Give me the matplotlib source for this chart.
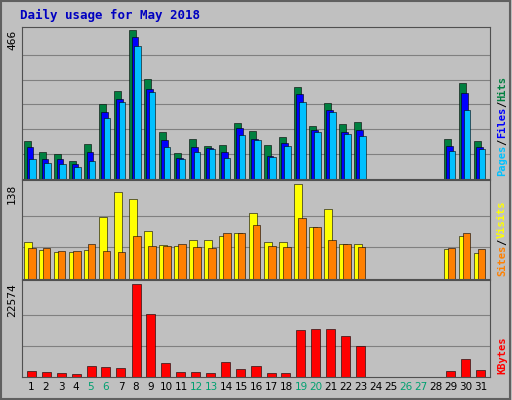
import matplotlib
matplotlib.use("Agg")
import matplotlib.pyplot as plt
import numpy as np

days = list(range(1, 32))
weekend = [5, 6, 12, 13, 19, 20, 26, 27]
data_days = list(range(1, 24)) + [29, 30, 31]
hits  = [118,83,77,57,108,233,274,466,313,147,80,124,102,105,175,150,105,131,287,166,239,172,179,124,300,118]
files = [99,64,61,48,83,210,249,443,281,121,67,99,96,83,160,124,73,112,265,153,217,147,153,102,268,99]
pages = [64,51,48,38,57,191,242,415,271,99,61,83,93,67,137,121,70,102,242,147,210,140,134,89,217,93]
visits = [53,42,39,39,42,90,126,116,69,50,48,56,56,63,66,96,53,54,138,75,102,51,51,44,63,38]
sites  = [45,45,41,41,51,41,39,62,48,48,51,47,45,66,66,78,48,47,89,75,56,51,47,45,66,44]
kbytes = [1490,1240,990,740,2730,2480,2230,22574,15130,3470,1240,1240,990,3720,1980,2730,990,990,11410,11660,11660,9920,7440,1490,4460,1740]

BG = "#C0C0C0"
fig = plt.figure(figsize=(5.12, 4.0), dpi=100, facecolor=BG)
fig.patches.append(plt.Rectangle((0.002, 0.003), 0.995, 0.994, transform=fig.transFigure,
                                 fill=False, edgecolor="#606060", lw=1.5))
fig.text(20/512, 1-15/400, "Daily usage for May 2018", color="#0000C0", fontsize=9,
         fontweight="bold", family="DejaVu Sans Mono", va="center")

L, R = 22/512, 490/512
def mkax(top, bot):
    ax = fig.add_axes([L, 1-bot/400, R-L, (bot-top)/400])
    ax.set_facecolor(BG)
    ax.set_xlim(0.4, 31.6)
    for s in ax.spines.values():
        s.set_color("#505050")
    ax.tick_params(length=0)
    ax.set_xticks([])
    return ax

x = np.array(data_days, dtype=float)
kw = dict(edgecolor="black", linewidth=0.4, align="edge")

ax1 = mkax(27, 179)
ax1.set_ylim(0, 466*1.02)
for yv in np.linspace(0, 466, 7)[1:-1]:
    ax1.axhline(yv, color="#808080", lw=0.8, zorder=0)
ax1.bar(x-0.45, hits, 0.45, color="#008040", **kw)
ax1.bar(x-0.3, files, 0.45, color="#0000FF", **kw)
ax1.bar(x-0.15, pages, 0.45, color="#00C0FF", **kw)
ax1.set_yticks([466]); ax1.set_yticklabels(["466"], rotation=90, va="top", fontsize=8, family="DejaVu Sans Mono")

ax2 = mkax(180, 279)
ax2.set_ylim(0, 138*1.04)
for yv in np.linspace(0, 138, 4)[1:-1]:
    ax2.axhline(yv, color="#808080", lw=0.8, zorder=0)
ax2.bar(x-0.45, visits, 0.5, color="#FFFF00", **kw)
ax2.bar(x-0.2, sites, 0.5, color="#FF8000", **kw)
ax2.set_yticks([138]); ax2.set_yticklabels(["138"], rotation=90, va="top", fontsize=8, family="DejaVu Sans Mono")

ax3 = mkax(280, 377)
ax3.set_ylim(0, 22574*1.04)
for yv in np.linspace(0, 22574, 4)[1:-1]:
    ax3.axhline(yv, color="#808080", lw=0.8, zorder=0)
ax3.bar(x-0.3, kbytes, 0.6, color="#FF0000", **kw)
ax3.set_yticks([22574]); ax3.set_yticklabels(["22574"], rotation=90, va="top", fontsize=8, family="DejaVu Sans Mono")
ax3.set_xticks(days)
ax3.set_xticklabels([str(d) for d in days], fontsize=7.5)
for lab, d in zip(ax3.get_xticklabels(), days):
    lab.set_color("#00A070" if d in weekend else "black")

FS = 7.5
CH = 0.6 * FS * 100 / 72  # char advance in px

def rlabel(ax, parts):
    hpx = ax.get_position().height * 400
    xs = 1.0 + 12/468
    pos = 3.0
    for txt, col in parts:
        ax.text(xs, pos / hpx, txt, transform=ax.transAxes, rotation=90, color=col, fontsize=FS,
                family="DejaVu Sans Mono", fontweight="bold", va="bottom", ha="center")
        pos += len(txt) * CH

rlabel(ax1, [("Pages", "#00C0FF"), ("/", "black"), ("Files", "#0000FF"), ("/", "black"), ("Hits", "#008040")])
rlabel(ax2, [("Sites", "#FF8000"), ("/", "black"), ("Visits", "#FFFF00")])
rlabel(ax3, [("KBytes", "#FF0000")])

fig.savefig("out.png", dpi=100, facecolor=BG)
